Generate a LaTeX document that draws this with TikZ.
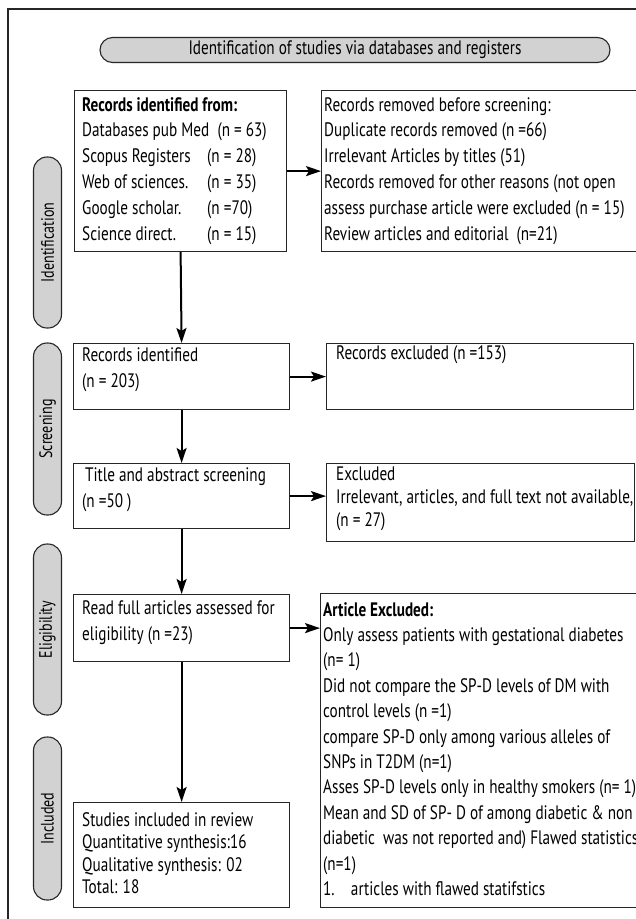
\documentclass[tikz,border=0pt]{standalone}
\usepackage{fontspec}
\setmainfont{PT Sans}[FakeStretch=0.78]
\usetikzlibrary{arrows.meta}
\begin{document}
\begin{tikzpicture}[x=1pt,y=-1pt,
  box/.style={draw=black!85, line width=1.2pt, inner sep=0pt, anchor=north west},
  txt/.style={anchor=north west, inner sep=0pt, align=left, font=\fontsize{19.5}{25.8}\selectfont, execute at begin node={\rule{0pt}{16pt}}},
  pill/.style={draw=black!85, line width=1.1pt, fill=gray!35, rounded corners=13.5pt, inner sep=0pt, font=\fontsize{18}{20}\selectfont},
  arr/.style={-{Stealth[length=15pt,width=10pt,inset=3pt]}, line width=2pt}
]
\useasboundingbox (0,0) rectangle (636,919);
\clip (0,0) rectangle (636,919);
\fill[white] (0,0) rectangle (636,919);
% outer frame
\draw[line width=2pt, black!85] (8,9) rectangle (660,950);
% title
\node[pill, minimum width=510pt, minimum height=25pt, rounded corners=12.5pt, font=\fontsize{19.5}{20}\selectfont] (title) at (355,50) {Identification of studies via databases and registers};
% side pills
\node[pill, minimum width=171pt, minimum height=28pt, rotate=90] (pid) at (47.5,242.5) {Identification};
\node[pill, minimum width=172pt, minimum height=28pt, rotate=90] (psc) at (47.5,429) {Screening};
\node[pill, minimum width=171pt, minimum height=28pt, rotate=90] (pel) at (47.5,629.5) {Eligibility};
\node[pill, minimum width=163pt, minimum height=28pt, rotate=90] (pin) at (47.5,818.5) {Included};
% boxes
\node[box, minimum width=212pt, minimum height=161pt] (A) at (74,90) {};
\node[box, minimum width=340pt, minimum height=161pt] (B) at (321,90) {};
\node[box, minimum width=216pt, minimum height=66pt] (C) at (73,343) {};
\node[box, minimum width=307pt, minimum height=66pt] (E) at (326,343) {};
\node[box, minimum width=216pt, minimum height=65pt] (D) at (73,463) {};
\node[box, minimum width=308pt, minimum height=78pt] (F) at (326,463) {};
\node[box, minimum width=216pt, minimum height=67pt] (G) at (73,594) {};
\node[box, minimum width=340pt, minimum height=314pt] (H) at (320,593) {};
\node[box, minimum width=216pt, minimum height=105pt] (I) at (73,802) {};
% texts
\node[txt] (At) at (82,97) {\textbf{Records identified from:}\\
Databases pub Med\ \ (n = 63)\\
\makebox[125pt][l]{Scopus Registers}(n = 28)\\
\makebox[125pt][l]{Web of sciences.}(n = 35)\\
\makebox[125pt][l]{Google scholar.}(n =70)\\
\makebox[125pt][l]{Science direct.}(n = 15)};
\node[txt] (Bt) at (324,97) {Records removed before screening:\\
Duplicate records removed (n =66)\\
Irrelevant Articles by titles (51)\\
Records removed for other reasons (not open\\
assess purchase article were excluded (n = 15)\\
Review articles and editorial\ \ (n=21)};
\node[txt, font=\fontsize{19.5}{26}\selectfont] (Ct) at (82,347) {Records identified\\ (n = 203)};
\node[txt, font=\fontsize{19.5}{26}\selectfont] (Dt) at (85,467) {Title and abstract screening\\ \hspace*{-3pt}(n =50 )};
\node[txt] (Et) at (336,343) {Records excluded (n =153)};
\node[txt, font=\fontsize{19.5}{23}\selectfont] (Ft) at (336,467) {Excluded\\ Irrelevant, articles, and full text not available,\\ (n = 27)};
\node[txt, font=\fontsize{19.5}{26.5}\selectfont] (Gt) at (82,600) {Read full articles assessed for\\ eligibility (n =23)};
\node[txt, font=\fontsize{19.5}{25.4}\selectfont] (Ht) at (323,602) {\textbf{Article Excluded:}\\
Only assess patients with gestational diabetes\\
(n= 1)\\
Did not compare the SP-D levels of DM with\\
control levels (n =1)\\
compare SP-D only among various alleles of\\
SNPs in T2DM (n=1)\\
Asses SP-D levels only in healthy smokers (n= 1)\\
Mean and SD of SP- D of among diabetic \& non\\
diabetic\ \ was not reported and) Flawed statistics\\
(n=1)\\
1.\ \ \ \ articles with flawed statifstics};
\node[txt, font=\fontsize{19.5}{22.6}\selectfont] (It) at (82,812) {Studies included in review\\
Quantitative synthesis:16\\
Qualitative synthesis: 02\\
Total: 18};
% arrows
\draw[arr] (A.east) -- (B.west);
\draw[arr] (A.south) -- (C.north);
\draw[arr] (C.east) -- (E.west);
\draw[arr] (C.south) -- (D.north);
\draw[arr] (D.east) -- (D.east -| F.west);
\draw[arr] (D.south) -- (G.north);
\draw[arr] (G.east) -- (G.east -| H.west);
\draw[arr] (G.south) -- (I.north);
\end{tikzpicture}
\end{document}
